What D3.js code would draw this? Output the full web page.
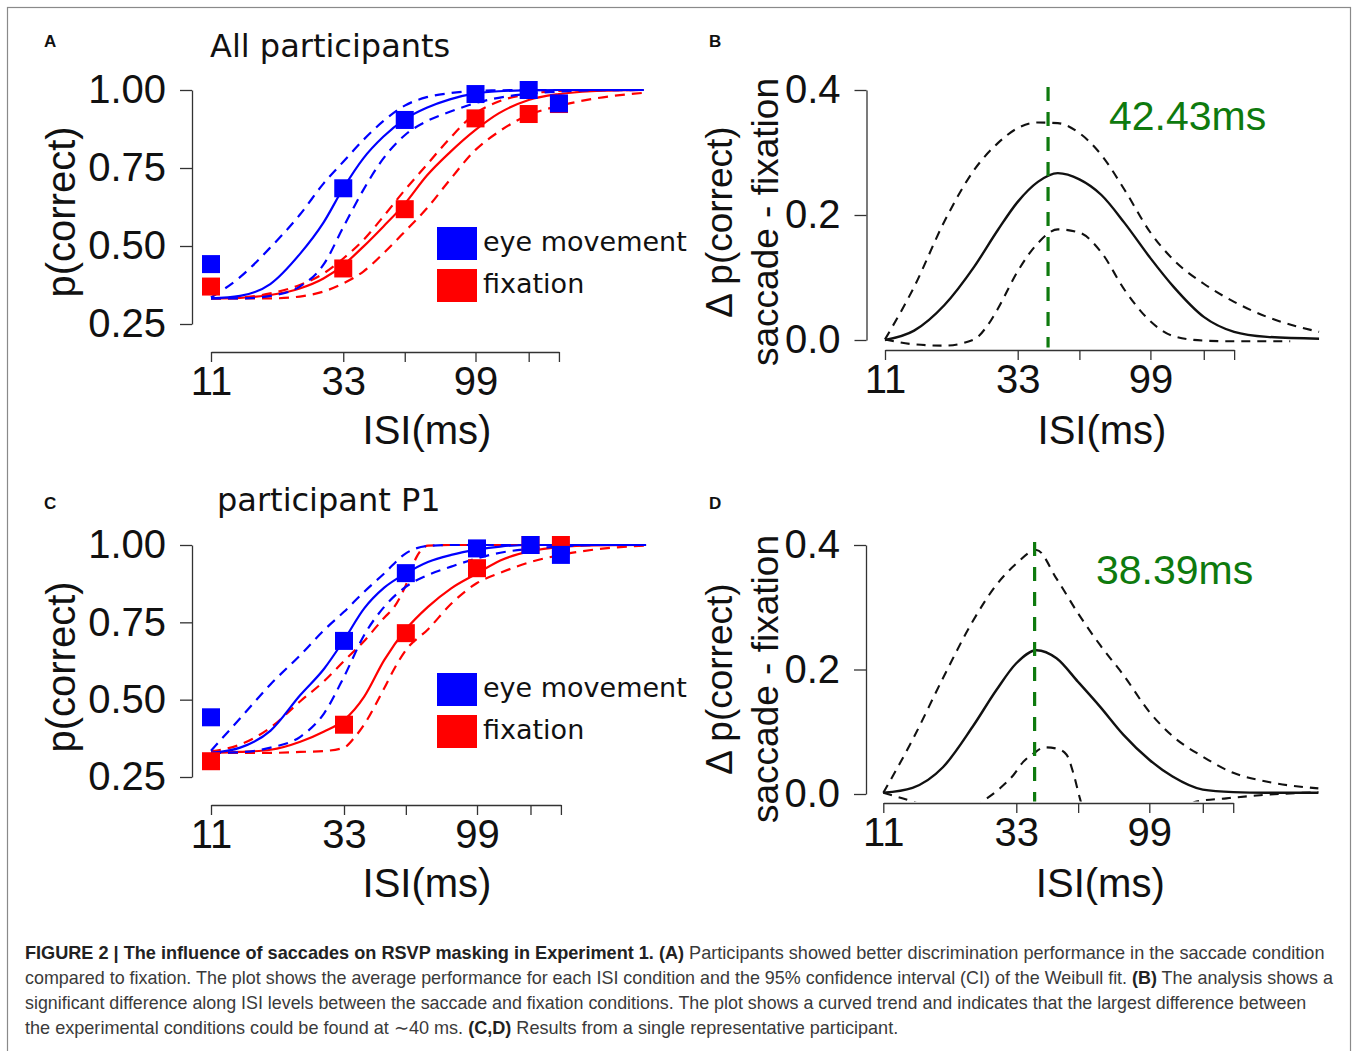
<!doctype html>
<html>
<head>
<meta charset="utf-8">
<style>
  body { margin: 0; background: #fff; }
</style>
<script src="https://d3js.org/d3.v7.min.js"></script>
</head>
<body>
<svg id="fig" width="1356" height="1051"></svg>
<script>

// ---- axis values ----
var isiLevels = [11, 33, 55, 99, 154, 198];
var isiTickLabels = {11: "11", 33: "33", 99: "99"};
var pTicks = [0.25, 0.50, 0.75, 1.00];
var diffTicks = [0.0, 0.2, 0.4];

// ---- A: all participants, mean p(correct) per ISI ----
var allEyeMean = [0.442, 0.685, 0.904, 0.987, 1.000, 0.957];
var allFixMean = [0.370, 0.428, 0.618, 0.909, 0.923, 0.955];

// Weibull fits and 95% CI as [ISI, p]
var allEyeFit   = [[11,0.332],[14,0.340],[18,0.378],[23,0.474],[28,0.575],[33,0.685],[39,0.781],[46,0.85],[55,0.906],[66,0.943],[80,0.970],[99,0.989],[120,0.996],[154,0.999],[198,1.0],[400,1.0]];
var allEyeUpper = [[11,0.335],[14,0.40],[18,0.495],[23,0.60],[28,0.70],[33,0.77],[39,0.84],[46,0.90],[55,0.95],[66,0.977],[80,0.99],[99,0.997],[120,0.999],[154,1.0],[400,1.0]];
var allEyeLower = [[11,0.332],[14,0.332],[18,0.34],[23,0.37],[28,0.44],[33,0.56],[39,0.68],[46,0.78],[55,0.855],[66,0.90],[80,0.93],[99,0.958],[120,0.975],[154,0.988],[198,0.995],[260,0.999],[400,1.0]];
var allFixFit   = [[11,0.332],[14,0.334],[18,0.343],[23,0.364],[28,0.396],[33,0.439],[39,0.498],[46,0.562],[55,0.635],[66,0.725],[80,0.80],[99,0.872],[120,0.925],[154,0.968],[198,0.987],[260,0.996],[400,1.0]];
var allFixUpper = [[11,0.332],[14,0.335],[18,0.348],[23,0.375],[28,0.412],[33,0.46],[39,0.519],[46,0.594],[55,0.679],[66,0.76],[80,0.845],[99,0.925],[120,0.963],[154,0.987],[198,0.997],[260,0.999],[400,1.0]];
var allFixLower = [[11,0.332],[14,0.332],[18,0.332],[23,0.338],[28,0.354],[33,0.38],[39,0.418],[46,0.476],[55,0.546],[66,0.62],[80,0.712],[99,0.808],[120,0.866],[154,0.92],[198,0.949],[260,0.971],[400,0.991]];

// ---- B: difference saccade - fixation, all participants ----
var allDiffFit   = [[11,0],[14,0.015],[18,0.056],[23,0.117],[28,0.176],[33,0.221],[39,0.253],[46,0.267],[55,0.257],[66,0.232],[80,0.187],[99,0.131],[120,0.085],[154,0.037],[198,0.013],[260,0.005],[400,0.002]];
var allDiffUpper = [[11,0.001],[14,0.085],[18,0.19],[23,0.272],[28,0.315],[33,0.339],[39,0.348],[46,0.347],[55,0.331],[66,0.296],[80,0.24],[99,0.172],[120,0.128],[154,0.09],[198,0.061],[260,0.037],[400,0.013]];
var allDiffLower = [[11,0.001],[14,-0.007],[18,-0.009],[23,0.001],[25.5,0.021],[28,0.05],[33,0.11],[39,0.155],[46,0.177],[55,0.172],[66,0.14],[80,0.08],[99,0.03],[120,0.006],[154,-0.001],[198,-0.002],[315,-0.002]];
var allPeak = 42.43;

// ---- C: participant P1 ----
var p1EyeMean = [0.443, 0.690, 0.909, 0.989, 1.000, 0.968];
var p1FixMean = [0.301, 0.419, 0.715, 0.925, 1.000, 1.000];

var p1EyeFit   = [[11,0.328],[14,0.345],[18,0.40],[23,0.515],[28,0.60],[33,0.693],[39,0.795],[46,0.862],[55,0.908],[66,0.945],[80,0.968],[99,0.985],[120,0.995],[154,1.0],[400,1.0]];
var p1EyeUpper = [[11,0.335],[14,0.44],[18,0.55],[23,0.644],[28,0.725],[33,0.784],[39,0.849],[46,0.908],[55,0.973],[66,0.997],[80,1.0],[400,1.0]];
var p1EyeLower = [[11,0.328],[14,0.33],[18,0.345],[23,0.38],[28,0.456],[33,0.574],[39,0.709],[46,0.80],[55,0.865],[66,0.903],[80,0.93],[99,0.957],[120,0.975],[154,0.988],[198,0.995],[260,1.0],[400,1.0]];
var p1FixFit   = [[11,0.328],[14,0.331],[18,0.338],[23,0.364],[28,0.397],[33,0.434],[39,0.51],[46,0.628],[55,0.727],[66,0.80],[80,0.86],[99,0.908],[120,0.95],[154,0.98],[198,0.994],[260,0.999],[400,1.0]];
var p1FixUpper = [[11,0.333],[14,0.355],[18,0.41],[23,0.495],[28,0.56],[33,0.625],[39,0.69],[46,0.765],[50,0.80],[55,0.87],[60,0.96],[66,0.998],[80,1.0],[400,1.0]];
var p1FixLower = [[11,0.328],[14,0.328],[18,0.328],[23,0.331],[28,0.334],[33,0.345],[36,0.378],[39,0.42],[46,0.537],[50,0.60],[55,0.66],[66,0.727],[80,0.81],[99,0.877],[120,0.91],[154,0.945],[198,0.968],[260,0.985],[400,0.998]];

// ---- D: difference, participant P1 ----
var p1DiffFit   = [[11,0.002],[14,0.01],[18,0.043],[23,0.108],[28,0.167],[33,0.21],[39,0.231],[46,0.218],[55,0.18],[66,0.14],[80,0.095],[99,0.055],[120,0.028],[154,0.007],[198,0.003],[260,0.002],[400,0.002]];
var p1DiffUpper = [[11,0.002],[14,0.087],[18,0.186],[23,0.277],[28,0.336],[33,0.37],[39,0.392],[46,0.346],[55,0.29],[66,0.239],[80,0.191],[99,0.132],[120,0.093],[154,0.06],[198,0.034],[260,0.02],[400,0.009]];
var p1DiffLower = [[11,0.002],[14,-0.012],[18,-0.03],[22,-0.03],[25,-0.012],[28.8,0.009],[32.3,0.031],[35,0.052],[38,0.065],[41.8,0.075],[46,0.073],[50,0.063],[52.9,0.033],[55.8,-0.007],[60,-0.05],[80,-0.09],[120,-0.05],[146,-0.012],[187,-0.007],[247,-0.002],[400,0.003]];
var p1Peak = 38.39;

var captionLines = [
  [["b", "FIGURE 2 | The influence of saccades on RSVP masking in Experiment 1. (A)"], ["n", " Participants showed better discrimination performance in the saccade condition"]],
  [["n", "compared to fixation. The plot shows the average performance for each ISI condition and the 95% confidence interval (CI) of the Weibull fit. "], ["b", "(B)"], ["n", " The analysis shows a"]],
  [["n", "significant difference along ISI levels between the saccade and fixation conditions. The plot shows a curved trend and indicates that the largest difference between"]],
  [["n", "the experimental conditions could be found at \u223c40 ms. "], ["b", "(C,D)"], ["n", " Results from a single representative participant."]]
];
var captionWidths = [1301, 1309, 1282, 874];

var BLUE = "#0000ff", RED = "#ff0000", GREEN = "#0e7a0e", AXIS = "#333";
var FONT = "'Liberation Sans', Arial, sans-serif";
var DEJAVU = "'DejaVu Sans', Verdana, sans-serif";

var svg = d3.select("#fig");

// frame
svg.append("rect").attr("x", 7.5).attr("y", 7.5).attr("width", 1343).attr("height", 1100)
  .attr("fill", "none").attr("stroke", "#8a8a8a").attr("stroke-width", 1.2);

function xAxis(x, yPos) {
  var xa = x.copy().domain([11, 198]).range([x(11), x(198)]);
  svg.append("g").attr("transform", "translate(0," + yPos + ")")
    .call(d3.axisBottom(xa).tickValues(isiLevels).tickSize(10).tickSizeOuter(0).tickPadding(5)
      .tickFormat(function(d) { return isiTickLabels[d] || ""; }))
    .call(styleAxis);
}

function yAxis(y, xPos, ticks, fmt) {
  svg.append("g").attr("transform", "translate(" + xPos + ",0)")
    .call(d3.axisLeft(y).tickValues(ticks).tickSize(12).tickSizeOuter(0).tickPadding(14)
      .tickFormat(d3.format(fmt)))
    .call(styleAxis);
}

function styleAxis(g) {
  g.attr("font-family", FONT).attr("font-size", 40);
  g.selectAll("path, line").attr("stroke", AXIS).attr("stroke-width", 1.3);
  g.selectAll("text").attr("fill", "#111");
}

function curve(g, x, y, pts, color, width, dash) {
  var line = d3.line().x(function(d) { return x(d[0]); }).y(function(d) { return y(d[1]); })
    .curve(d3.curveMonotoneX);
  g.append("path").datum(pts).attr("d", line).attr("fill", "none")
    .attr("stroke", color).attr("stroke-width", width)
    .attr("stroke-dasharray", dash || null);
}

function label(txt, x, y, size, opts) {
  opts = opts || {};
  var t = svg.append("text").attr("x", x).attr("y", y).attr("font-size", size)
    .attr("font-family", opts.family || FONT).attr("fill", opts.fill || "#111")
    .attr("font-weight", opts.weight || null).text(txt);
  if (opts.rotate) t.attr("transform", "rotate(-90," + x + "," + y + ")").attr("text-anchor", "middle");
  if (opts.anchor) t.attr("text-anchor", opts.anchor);
  return t;
}

function psychPanel(c) {
  var x = d3.scaleLog().domain([11, 99]).range([211, c.x99]);
  var y = d3.scaleLinear().domain([0.25, 1]).range([c.yLow, c.yTop]);
  xAxis(x, c.xAxisY);
  yAxis(y, 192, pTicks, ".2f");

  var g = svg.append("g");
  curve(g, x, y, c.fixUpper, RED, 2.2, "10,7");
  curve(g, x, y, c.fixLower, RED, 2.2, "10,7");
  curve(g, x, y, c.fixFit, RED, 2.2);
  curve(g, x, y, c.eyeUpper, BLUE, 2.2, "10,7");
  curve(g, x, y, c.eyeLower, BLUE, 2.2, "10,7");
  curve(g, x, y, c.eyeFit, BLUE, 2.2);

  var s = 18;
  [[c.fixMean, RED], [c.eyeMean, BLUE]].forEach(function(m) {
    g.append("g").selectAll("rect").data(m[0]).enter().append("rect")
      .attr("x", function(d, i) { return x(isiLevels[i]) - s / 2; })
      .attr("y", function(d) { return y(d) - s / 2; })
      .attr("width", s).attr("height", s).attr("fill", m[1]);
  });

  // legend
  var lg = svg.append("g").attr("transform", "translate(437," + c.legendY + ")");
  [["eye movement", BLUE], ["fixation", RED]].forEach(function(e, i) {
    lg.append("rect").attr("x", 0).attr("y", i * 42).attr("width", 40).attr("height", 33).attr("fill", e[1]);
    lg.append("text").attr("x", 46).attr("y", i * 42 + 24).attr("font-size", 27)
      .attr("font-family", DEJAVU).attr("fill", "#111").text(e[0]);
  });

  label(c.title, c.titleX, c.titleY, 32, {family: DEJAVU});
  label("p(correct)", 75, c.yLabelY, 40, {rotate: true});
  label("ISI(ms)", 427, c.xTitleY, 40, {anchor: "middle"});
  label(c.tag, 44, c.tagY, 17, {weight: "bold"});
}

function diffPanel(c) {
  var x = d3.scaleLog().domain([11, 99]).range([c.x11, c.x99]);
  var y = d3.scaleLinear().domain([0, 0.4]).range([c.yZero, c.yTop]);
  xAxis(x, c.xAxisY);
  yAxis(y, c.yAxisX, diffTicks, ".1f");

  var clipId = "clip" + c.tag;
  svg.append("clipPath").attr("id", clipId).append("rect")
    .attr("x", c.yAxisX).attr("y", 0).attr("width", 1356 - c.yAxisX).attr("height", y(-0.012));
  var g = svg.append("g").attr("clip-path", "url(#" + clipId + ")");
  curve(g, x, y, c.upper, "#111", 2.1, "9,7");
  curve(g, x, y, c.lower, "#111", 2.1, "9,7");
  curve(g, x, y, c.fit, "#111", 2.4);

  g.append("line").attr("x1", x(c.peak)).attr("x2", x(c.peak))
    .attr("y1", y(0.405)).attr("y2", y(-0.02))
    .attr("stroke", GREEN).attr("stroke-width", 3.2).attr("stroke-dasharray", "14,11");

  label(c.peak.toFixed(2) + "ms", c.peakTextX, c.peakTextY, 41, {fill: GREEN});
  label("\u0394 p(correct)", 732, c.yLabelY, 37, {rotate: true});
  label("saccade - fixation", 778, c.yLabelY, 37, {rotate: true});
  label("ISI(ms)", c.x11 + 217, c.xTitleY, 40, {anchor: "middle"});
  label(c.tag, 709, c.tagY, 17, {weight: "bold"});
}

psychPanel({tag: "A", x99: 475.5, yTop: 90, yLow: 324, xAxisY: 352, legendY: 227,
  title: "All participants", titleX: 210, titleY: 57, tagY: 47, yLabelY: 212, xTitleY: 444,
  eyeMean: allEyeMean, fixMean: allFixMean,
  eyeFit: allEyeFit, eyeUpper: allEyeUpper, eyeLower: allEyeLower,
  fixFit: allFixFit, fixUpper: allFixUpper, fixLower: allFixLower});

psychPanel({tag: "C", x99: 477, yTop: 545, yLow: 777, xAxisY: 805, legendY: 673,
  title: "participant P1", titleX: 217, titleY: 511, tagY: 509, yLabelY: 667, xTitleY: 897,
  eyeMean: p1EyeMean, fixMean: p1FixMean,
  eyeFit: p1EyeFit, eyeUpper: p1EyeUpper, eyeLower: p1EyeLower,
  fixFit: p1FixFit, fixUpper: p1FixUpper, fixLower: p1FixLower});

diffPanel({tag: "B", x11: 885, x99: 1150.4, yZero: 340, yTop: 90, xAxisY: 350, yAxisX: 866.5,
  tagY: 47, yLabelY: 222, xTitleY: 444, peak: allPeak, peakTextX: 1109, peakTextY: 130,
  fit: allDiffFit, upper: allDiffUpper, lower: allDiffLower});

diffPanel({tag: "D", x11: 883.3, x99: 1149.3, yZero: 794, yTop: 545, xAxisY: 803, yAxisX: 866,
  tagY: 509, yLabelY: 679, xTitleY: 897, peak: p1Peak, peakTextX: 1096, peakTextY: 584,
  fit: p1DiffFit, upper: p1DiffUpper, lower: p1DiffLower});

// caption: each line squeezed horizontally to the width it has in the figure
captionLines.forEach(function(parts, i) {
  var t = svg.append("text").attr("x", 0).attr("y", 0)
    .attr("font-size", 18).attr("font-family", FONT);
  parts.forEach(function(p) {
    t.append("tspan").attr("font-weight", p[0] === "b" ? "bold" : null)
      .attr("fill", p[0] === "b" ? "#222" : "#3a3a3a").text(p[1]);
  });
  var w = t.node().getComputedTextLength();
  var sx = captionWidths[i] / w;
  t.attr("transform", "translate(25," + (959 + i * 25) + ") scale(" + sx + ",1)");
});

</script>
</body>
</html>
